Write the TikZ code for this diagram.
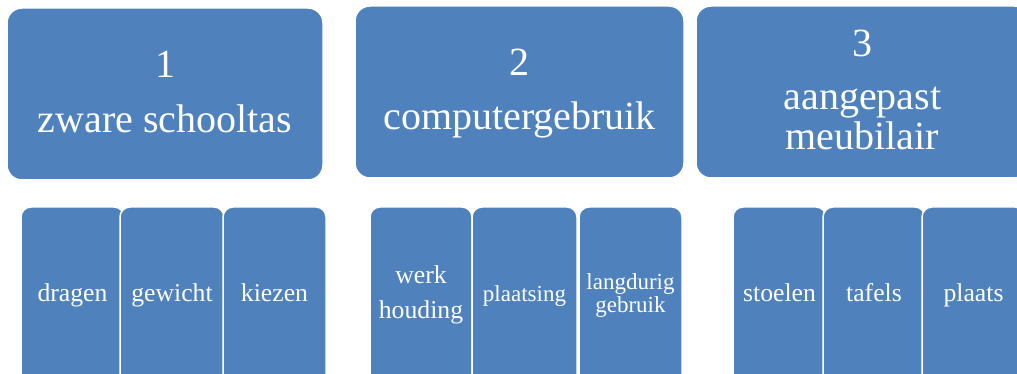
\documentclass[tikz,border=0pt]{standalone}
\usepackage{fontspec}
\setmainfont{Liberation Serif}
\definecolor{boxblue}{HTML}{4F81BD}
\begin{document}
\begin{tikzpicture}[x=1pt,y=-1pt,
  card/.style={draw=white, line width=1.5pt, fill=boxblue, inner sep=0pt, outer sep=0pt, anchor=north west},
  headcard/.style={card, rounded corners=15pt, minimum height=172pt},
  subcard/.style={card, rounded corners=10pt, minimum height=193pt},
  headtext/.style={text=white, anchor=base, inner sep=0pt, font=\fontsize{40pt}{40pt}\selectfont},
  subtext/.style={text=white, anchor=base, inner sep=0pt, font=\fontsize{25.7pt}{26pt}\selectfont},
  smalltext/.style={text=white, anchor=base, inner sep=0pt, font=\fontsize{23pt}{23pt}\selectfont}]
\useasboundingbox (0,0) rectangle (1017,374);
\fill[white] (0,0) rectangle (1017,374);
\begin{scope}
\clip (0,0) rectangle (1017,374);

% three heading cards
\node[headcard, minimum width=316pt] (h1) at (7,8) {};
\node[headcard, minimum width=329pt] (h2) at (355,6) {};
\node[headcard, minimum width=333pt] (h3) at (696,6) {};

\node[headtext] (h1n) at (h1.north |- 0,78) {1};
\node[headtext] (h1t) at (h1.north |- 0,133) {zware schooltas};
\node[headtext] (h2n) at (h2.north |- 0,76) {2};
\node[headtext] (h2t) at (h2.north |- 0,130) {computergebruik};
\node[headtext] (h3n) at (h3.north |- 0,57) {3};
\node[headtext] (h3a) at (h3.north |- 0,110) {aangepast};
\node[headtext] (h3b) at (h3.north |- 0,150) {meubilair};

% sub cards, group 1
\node[subcard, minimum width=103pt] (s1a) at (21,207) {};
\node[subcard, minimum width=104pt] (s1b) at (120,207) {};
\node[subcard, minimum width=103pt] (s1c) at (223,207) {};
\node[subtext] (s1at) at (s1a.north |- 0,301) {dragen};
\node[subtext] (s1bt) at (s1b.north |- 0,301) {gewicht};
\node[subtext] (s1ct) at (s1c.north |- 0,301) {kiezen};

% sub cards, group 2
\node[subcard, minimum width=102pt] (s2a) at (370,207) {};
\node[subcard, minimum width=105pt] (s2b) at (472,207) {};
\node[subcard, minimum width=103pt] (s2c) at (579,207) {};
\node[subtext] (s2at) at (s2a.north |- 0,283) {werk};
\node[subtext] (s2au) at (s2a.north |- 0,318) {houding};
\node[smalltext] (s2bt) at (s2b.north |- 0,301) {plaatsing};
\node[smalltext] (s2ct) at (s2c.north |- 0,289) {langdurig};
\node[smalltext] (s2cu) at (s2c.north |- 0,312) {gebruik};

% sub cards, group 3
\node[subcard, minimum width=93pt] (s3a) at (733,207) {};
\node[subcard, minimum width=102pt] (s3b) at (823,207) {};
\node[subcard, minimum width=103pt] (s3c) at (922,207) {};
\node[subtext] (s3at) at (s3a.north |- 0,301) {stoelen};
\node[subtext] (s3bt) at (s3b.north |- 0,301) {tafels};
\node[subtext] (s3ct) at (s3c.north |- 0,301) {plaats};
\end{scope}
\end{tikzpicture}
\end{document}
